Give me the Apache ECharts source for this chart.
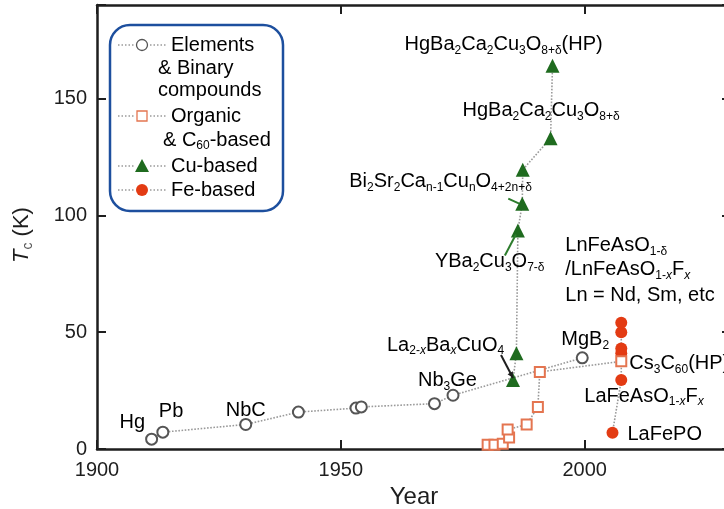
<!DOCTYPE html>
<html>
<head>
<meta charset="utf-8">
<script src="https://cdn.jsdelivr.net/npm/echarts@6/dist/echarts.min.js"></script>
<style>
  html, body { margin: 0; padding: 0; background: #fff; }
  #chart { width: 724px; height: 509px; }
</style>
</head>
<body>
<div id="chart"></div>
<script>
// Superconducting transition temperature vs. year of discovery
const elementNames = ['Hg', 'Pb', 'NbC', 'NbN', 'V3Si', 'Nb3Sn', 'Nb3(Al,Ge)', 'Nb3Ge', 'MgB2'];
const elementYears = [1911.2, 1913.5, 1930.5, 1941.3, 1953.1, 1954.2, 1969.2, 1973.0, 1999.5];
const elementTc    = [4.2, 7.2, 10.5, 15.8, 17.5, 18.0, 19.4, 23.0, 39.0];

const organicYears = [1980.1, 1981.5, 1983.2, 1984.5, 1984.2, 1988.1, 1990.4, 1990.8, 2007.5];
const organicTc    = [1.8, 1.8, 2.2, 4.9, 8.3, 10.5, 18.0, 33.0, 37.5];

const cuYears = [1985.3, 1986.0, 1986.3, 1987.2, 1987.3, 1993.0, 1993.4];
const cuTc    = [29.5, 41.0, 93.5, 105.0, 119.5, 133.0, 164.0];

const feYears = [2005.7, 2007.5, 2007.5, 2007.5, 2007.5, 2007.5];
const feTc    = [7.0, 29.5, 41.0, 43.0, 50.0, 54.0];

const yearTicks = [1900, 1950, 2000];
const tcTicks = [0, 50, 100, 150];
const yearMax = 2030;
const tcMax = 190;

const FONT = "'Liberation Sans', Arial, Helvetica, sans-serif";
const INK = '#1e1e1e';
const RED_TEXT = '#e8552a';
const RED_DOT = '#e33b13';
const GREEN = '#1f6b1f';
const ORANGE = '#e47550';
const LINE_GRAY = '#9a9a9a';

const zip = (xs, ys) => xs.map((x, i) => [x, ys[i]]);

const axisCommon = {
  type: 'value',
  axisLine: { show: true, onZero: false, lineStyle: { color: INK, width: 2.5 } },
  axisTick: { show: true, inside: true, length: 9, lineStyle: { color: INK, width: 2 } },
  splitLine: { show: false }
};

const option = {
  animation: false,
  backgroundColor: '#fff',
  grid: { left: 97, top: 5, width: 634, height: 444, containLabel: false, outerBoundsMode: 'none' },
  xAxis: [
    Object.assign({}, axisCommon, {
      position: 'bottom',
      min: yearTicks[0], max: yearMax, interval: yearTicks[1] - yearTicks[0],
      axisLabel: {
        fontFamily: FONT, fontSize: 20, color: INK, margin: 11,
        formatter: v => yearTicks.includes(v) ? String(v) : ''
      },
      name: 'Year', nameLocation: 'middle', nameGap: 32,
      nameTextStyle: { fontFamily: FONT, fontSize: 24, color: INK }
    }),
    Object.assign({}, axisCommon, {
      position: 'top',
      min: yearTicks[0], max: yearMax, interval: yearTicks[1] - yearTicks[0],
      axisLabel: { show: false }
    })
  ],
  yAxis: [
    Object.assign({}, axisCommon, {
      position: 'left',
      min: tcTicks[0], max: tcMax, interval: tcTicks[1] - tcTicks[0],
      axisLabel: {
        fontFamily: FONT, fontSize: 20, color: INK, margin: 10,
        formatter: v => tcTicks.includes(v) ? String(v) : ''
      },
      name: '{i|T}{s|c}{m| (K)}', nameLocation: 'middle', nameGap: 62, nameRotate: 90,
      nameTextStyle: {
        fontFamily: FONT, fontSize: 22, color: INK, padding: [0, 16, 0, 0],
        rich: {
          i: { fontFamily: FONT, fontSize: 22, fontStyle: 'italic', color: INK },
          s: { fontFamily: FONT, fontSize: 14, color: '#555', padding: [12, 0, 0, 0] },
          m: { fontFamily: FONT, fontSize: 22, color: INK }
        }
      }
    }),
    Object.assign({}, axisCommon, {
      position: 'right',
      min: tcTicks[0], max: tcMax, interval: tcTicks[1] - tcTicks[0],
      axisLabel: { show: false }
    })
  ],
  series: [
    {
      name: 'Elements & Binary compounds', type: 'line',
      data: zip(elementYears, elementTc),
      symbol: 'emptyCircle', symbolSize: 11,
      itemStyle: { color: '#555', borderWidth: 1.3 },
      lineStyle: { type: 'dotted', color: LINE_GRAY, width: 1.6 },
      z: 3
    },
    {
      name: 'Organic & C60-based', type: 'line',
      data: zip(organicYears, organicTc),
      symbol: 'emptyRect', symbolSize: 10,
      itemStyle: { color: ORANGE, borderWidth: 1.3 },
      lineStyle: { type: 'dotted', color: LINE_GRAY, width: 1.6 },
      z: 5
    },
    {
      name: 'Cu-based', type: 'line',
      data: zip(cuYears, cuTc),
      symbol: 'triangle', symbolSize: 14,
      itemStyle: { color: GREEN },
      lineStyle: { type: 'dotted', color: LINE_GRAY, width: 1.6 },
      z: 4
    },
    {
      name: 'Fe-based', type: 'line',
      data: zip(feYears, feTc),
      symbol: 'circle', symbolSize: 12,
      itemStyle: { color: RED_DOT },
      lineStyle: { type: 'dotted', color: LINE_GRAY, width: 1.6 },
      z: 4
    }
  ]
};

const chart = echarts.init(document.getElementById('chart'), null, { renderer: 'canvas' });
chart.setOption(option);

// ---- annotations, placed relative to the points they describe ----
const pointOf = {
  el: i => chart.convertToPixel({ gridIndex: 0 }, [elementYears[i], elementTc[i]]),
  org: i => chart.convertToPixel({ gridIndex: 0 }, [organicYears[i], organicTc[i]]),
  cu: i => chart.convertToPixel({ gridIndex: 0 }, [cuYears[i], cuTc[i]]),
  fe: i => chart.convertToPixel({ gridIndex: 0 }, [feYears[i], feTc[i]])
};

const richBlack = {
  m: { fontFamily: FONT, fontSize: 20, color: INK },
  s: { fontFamily: FONT, fontSize: 12, color: '#666', padding: [12, 0, 0, 0] },
  x: { fontFamily: FONT, fontSize: 12, color: '#666', fontStyle: 'italic', padding: [12, 0, 0, 0] }
};
const richRed = {
  m: { fontFamily: FONT, fontSize: 20, color: RED_TEXT },
  s: { fontFamily: FONT, fontSize: 12, color: '#f08c6c', padding: [12, 0, 0, 0] },
  x: { fontFamily: FONT, fontSize: 12, color: '#f08c6c', fontStyle: 'italic', padding: [12, 0, 0, 0] }
};

const notes = [
  { at: ['el', 0], dx: -32, dy: -17, text: '{m|Hg}' },
  { at: ['el', 1], dx: -4, dy: -21, text: '{m|Pb}' },
  { at: ['el', 2], dx: -20, dy: -14, text: '{m|NbC}' },
  { at: ['el', 7], dx: -35, dy: -15, text: '{m|Nb}{s|3}{m|Ge}' },
  { at: ['el', 8], dx: -21, dy: -18, text: '{m|MgB}{s|2}' },
  { at: ['org', 8], dx: 8, dy: 2, text: '{m|Cs}{s|3}{m|C}{s|60}{m|(HP)}' },
  { at: ['cu', 0], dx: -126, dy: -35, text: '{m|La}{s|2-}{x|x}{m|Ba}{x|x}{m|CuO}{s|4}' },
  { at: ['cu', 2], dx: -83, dy: 31, text: '{m|YBa}{s|2}{m|Cu}{s|3}{m|O}{s|7-δ}' },
  { at: ['cu', 3], dx: -173, dy: -22, text: '{m|Bi}{s|2}{m|Sr}{s|2}{m|Ca}{s|n-1}{m|Cu}{s|n}{m|O}{s|4+2n+δ}' },
  { at: ['cu', 5], dx: -88, dy: -28, text: '{m|HgBa}{s|2}{m|Ca}{s|2}{m|Cu}{s|3}{m|O}{s|8+δ}' },
  { at: ['cu', 6], dx: -148, dy: -21, text: '{m|HgBa}{s|2}{m|Ca}{s|2}{m|Cu}{s|3}{m|O}{s|8+δ}{m|(HP)}' },
  { at: ['fe', 0], dx: 15, dy: 2, text: '{m|LaFePO}', red: true },
  { at: ['fe', 1], dx: -37, dy: 16, text: '{m|LaFeAsO}{s|1-}{x|x}{m|F}{x|x}', red: true },
  { at: ['fe', 5], dx: -56, dy: -77, text: '{m|LnFeAsO}{s|1-δ}', red: true },
  { at: ['fe', 5], dx: -56, dy: -53, text: '{m|/LnFeAsO}{s|1-}{x|x}{m|F}{x|x}', red: true },
  { at: ['fe', 5], dx: -56, dy: -27, text: '{m|Ln = Nd, Sm, etc}', red: true }
];

// short pointer lines from labels to their points
const pointers = [
  { at: ['cu', 0], from: [-12, -25], to: [0, -2], color: INK, head: true },
  { at: ['cu', 2], from: [-13, 25], to: [-2, 4], color: '#2d7d2d', head: false },
  { at: ['cu', 3], from: [-14, -5], to: [-3, 0], color: '#2d7d2d', head: false }
];

const graphics = [];

notes.forEach(n => {
  const p = pointOf[n.at[0]](n.at[1]);
  graphics.push({
    type: 'text', z: 20, silent: true,
    style: {
      x: p[0] + n.dx, y: p[1] + n.dy,
      text: n.text,
      rich: n.red ? richRed : richBlack,
      align: 'left', textAlign: 'left',
      verticalAlign: 'middle', textVerticalAlign: 'middle'
    }
  });
});

pointers.forEach(a => {
  const p = pointOf[a.at[0]](a.at[1]);
  const x1 = p[0] + a.from[0], y1 = p[1] + a.from[1];
  const x2 = p[0] + a.to[0], y2 = p[1] + a.to[1];
  graphics.push({
    type: 'line', z: 19, silent: true,
    shape: { x1, y1, x2, y2 },
    style: { stroke: a.color, lineWidth: 2 }
  });
  if (a.head) {
    const ang = Math.atan2(y2 - y1, x2 - x1);
    const L = 6, W = 3;
    const bx = x2 - L * Math.cos(ang), by = y2 - L * Math.sin(ang);
    graphics.push({
      type: 'polygon', z: 19, silent: true,
      shape: { points: [[x2, y2],
        [bx + W * Math.sin(ang), by - W * Math.cos(ang)],
        [bx - W * Math.sin(ang), by + W * Math.cos(ang)]] },
      style: { fill: a.color }
    });
  }
});

// ---- legend box ----
const LX = 110, LY = 25, LW = 173, LH = 186;
graphics.push({
  type: 'rect', z: 15, silent: true,
  shape: { x: LX, y: LY, width: LW, height: LH, r: 20 },
  style: { fill: '#fff', stroke: '#1d4f9e', lineWidth: 2.5 }
});

const symX = 142;
const legendRows = [
  { y: 45, kind: 'circle' },
  { y: 116, kind: 'square' },
  { y: 166, kind: 'triangle' },
  { y: 190, kind: 'dot' }
];
legendRows.forEach(r => {
  [[118, 135], [150, 166]].forEach(seg => {
    graphics.push({
      type: 'line', z: 16, silent: true,
      shape: { x1: seg[0], y1: r.y, x2: seg[1], y2: r.y },
      style: { stroke: LINE_GRAY, lineWidth: 1.6, lineDash: [1.5, 2] }
    });
  });
  if (r.kind === 'circle') {
    graphics.push({ type: 'circle', z: 17, silent: true, shape: { cx: symX, cy: r.y, r: 5.5 },
      style: { fill: '#fff', stroke: '#555', lineWidth: 1.3 } });
  } else if (r.kind === 'square') {
    graphics.push({ type: 'rect', z: 17, silent: true, shape: { x: symX - 5, y: r.y - 5, width: 10, height: 10 },
      style: { fill: '#fff', stroke: ORANGE, lineWidth: 1.3 } });
  } else if (r.kind === 'triangle') {
    graphics.push({ type: 'polygon', z: 17, silent: true,
      shape: { points: [[symX, r.y - 7], [symX + 7, r.y + 6], [symX - 7, r.y + 6]] },
      style: { fill: GREEN } });
  } else {
    graphics.push({ type: 'circle', z: 17, silent: true, shape: { cx: symX, cy: r.y, r: 6 },
      style: { fill: RED_DOT } });
  }
});

const legendTexts = [
  { x: 171, y: 45, text: '{m|Elements}' },
  { x: 158, y: 68, text: '{m|& Binary}' },
  { x: 158, y: 90, text: '{m|compounds}' },
  { x: 171, y: 116, text: '{m|Organic}' },
  { x: 163, y: 140, text: '{m|& C}{s|60}{m|-based}' },
  { x: 171, y: 166, text: '{m|Cu-based}' },
  { x: 171, y: 190, text: '{m|Fe-based}' }
];
legendTexts.forEach(t => {
  graphics.push({
    type: 'text', z: 18, silent: true,
    style: {
      x: t.x, y: t.y, text: t.text, rich: richBlack,
      align: 'left', textAlign: 'left', verticalAlign: 'middle', textVerticalAlign: 'middle'
    }
  });
});

chart.setOption({ graphic: { elements: graphics } });
</script>
</body>
</html>
